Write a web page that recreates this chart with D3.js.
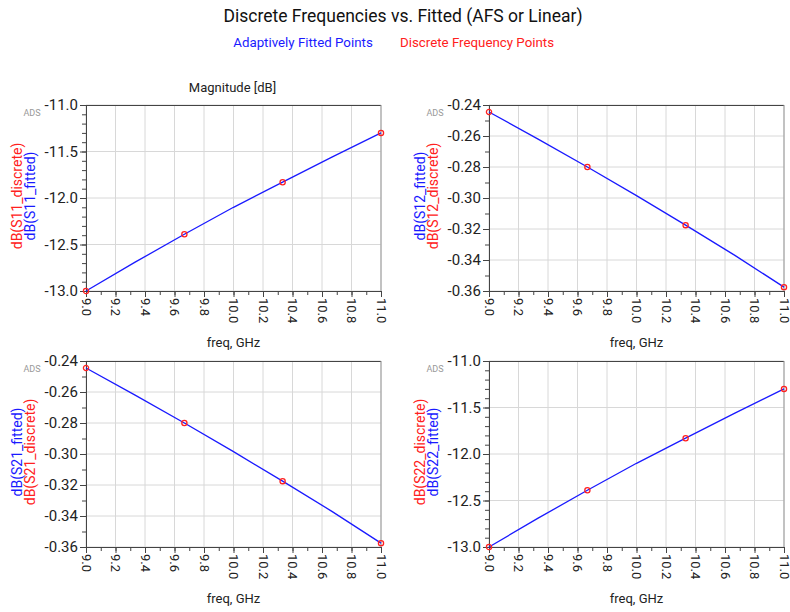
<!DOCTYPE html>
<html>
<head>
<meta charset="utf-8">
<script src="https://cdn.jsdelivr.net/npm/d3@7"></script>
<style>
  body { margin: 0; background: #fff; }
  text { font-family: Roboto, "Noto Sans", sans-serif; }
</style>
</head>
<body>
<div id="chart"></div>
<script>
// frequencies (GHz)
var fitFreq = [9.0, 9.333, 9.667, 10.0, 10.333, 10.667, 11.0];
var discFreq = [9.0, 9.667, 10.333, 11.0];

// magnitudes in dB
var s11Fitted = [-13.0, -12.69, -12.39, -12.10, -11.83, -11.56, -11.30];
var s11Discrete = [-13.0, -12.39, -11.83, -11.30];
var s12Fitted = [-0.2445, -0.262, -0.280, -0.2985, -0.3175, -0.337, -0.3575];
var s12Discrete = [-0.2445, -0.280, -0.3175, -0.3575];
var s21Fitted = [-0.2445, -0.262, -0.280, -0.2985, -0.3175, -0.337, -0.3575];
var s21Discrete = [-0.2445, -0.280, -0.3175, -0.3575];
var s22Fitted = [-13.0, -12.69, -12.39, -12.10, -11.83, -11.56, -11.30];
var s22Discrete = [-13.0, -12.39, -11.83, -11.30];

var xTicks = [9.0, 9.2, 9.4, 9.6, 9.8, 10.0, 10.2, 10.4, 10.6, 10.8, 11.0];
var dbTicks = [-13.0, -12.5, -12.0, -11.5, -11.0];
var smallTicks = [-0.36, -0.34, -0.32, -0.30, -0.28, -0.26, -0.24];

var blue = "#1a1aff", red = "#ff2020";

var svg = d3.select("#chart").append("svg")
  .attr("width", 790).attr("height", 612);

svg.append("text").attr("x", 403).attr("y", 22)
  .attr("text-anchor", "middle").style("font-size", "17.5px").attr("fill", "#111")
  .text("Discrete Frequencies vs. Fitted (AFS or Linear)");
svg.append("text").attr("x", 303).attr("y", 47)
  .attr("text-anchor", "middle").style("font-size", "13.3px").attr("fill", blue)
  .text("Adaptively Fitted Points");
svg.append("text").attr("x", 477).attr("y", 47)
  .attr("text-anchor", "middle").style("font-size", "13.3px").attr("fill", red)
  .text("Discrete Frequency Points");

var plots = [
  {x: 86, y: 105, fit: s11Fitted, disc: s11Discrete, dom: [-13, -11], ticks: dbTicks, minor: 0.1, fmt: ".1f",
   labels: [["dB(S11_discrete)", red], ["dB(S11_fitted)", blue]], title: "Magnitude [dB]"},
  {x: 489, y: 105, fit: s12Fitted, disc: s12Discrete, dom: [-0.36, -0.24], ticks: smallTicks, minor: 0.01, fmt: ".2f",
   labels: [["dB(S12_fitted)", blue], ["dB(S12_discrete)", red]]},
  {x: 86, y: 361, fit: s21Fitted, disc: s21Discrete, dom: [-0.36, -0.24], ticks: smallTicks, minor: 0.01, fmt: ".2f",
   labels: [["dB(S21_fitted)", blue], ["dB(S21_discrete)", red]]},
  {x: 489, y: 361, fit: s22Fitted, disc: s22Discrete, dom: [-13, -11], ticks: dbTicks, minor: 0.1, fmt: ".1f",
   labels: [["dB(S22_discrete)", red], ["dB(S22_fitted)", blue]]}
];

var pw = 295, ph = 186;

plots.forEach(function(p) {
  var g = svg.append("g").attr("transform", "translate(" + p.x + "," + p.y + ")");
  var x = d3.scaleLinear().domain([9, 11]).range([0, pw]);
  var y = d3.scaleLinear().domain(p.dom).range([ph, 0]);

  // grid
  g.append("g").selectAll("line").data(xTicks).enter().append("line")
    .attr("x1", d => x(d)).attr("x2", d => x(d)).attr("y1", 0).attr("y2", ph)
    .attr("stroke", "#d8d8d8");
  g.append("g").selectAll("line").data(p.ticks).enter().append("line")
    .attr("x1", 0).attr("x2", pw).attr("y1", d => y(d)).attr("y2", d => y(d))
    .attr("stroke", "#d8d8d8");

  // frame top / right
  g.append("line").attr("x1", 0).attr("x2", pw).attr("y1", 0.5).attr("y2", 0.5).attr("stroke", "#444");
  g.append("line").attr("x1", pw).attr("x2", pw).attr("y1", 0).attr("y2", ph).attr("stroke", "#999");

  // minor ticks
  var nMinor = Math.round((p.dom[1] - p.dom[0]) / p.minor);
  var yMinor = d3.range(nMinor + 1).map(i => p.dom[0] + i * p.minor);
  g.append("g").call(d3.axisLeft(y).tickValues(yMinor).tickSize(4).tickFormat(""))
    .call(a => a.select(".domain").remove())
    .selectAll("line").attr("stroke", "#444");
  var xMinor = d3.range(21).map(i => 9 + i * 0.1);
  g.append("g").attr("transform", "translate(0," + ph + ")")
    .call(d3.axisBottom(x).tickValues(xMinor).tickSize(4).tickFormat(""))
    .call(a => a.select(".domain").remove())
    .selectAll("line").attr("stroke", "#444");

  // major axes
  var ya = g.append("g").call(d3.axisLeft(y).tickValues(p.ticks).tickSize(6).tickPadding(2).tickFormat(d3.format(p.fmt)));
  ya.select(".domain").attr("stroke", "#444");
  ya.selectAll("line").attr("stroke", "#444");
  ya.selectAll("text").style("font-size", "15px").attr("fill", "#222")
    .text(function(d) { return d3.format(p.fmt)(d).replace("\u2212", "-"); });

  var xa = g.append("g").attr("transform", "translate(0," + ph + ")")
    .call(d3.axisBottom(x).tickValues(xTicks).tickSize(6).tickFormat(d3.format(".1f")));
  xa.select(".domain").attr("stroke", "#444");
  xa.selectAll("line").attr("stroke", "#444");
  xa.selectAll("text").style("font-size", "13px").attr("fill", "#222")
    .attr("transform", "rotate(90)").attr("y", 0).attr("x", 7).attr("dy", "0.35em")
    .attr("text-anchor", "start");

  g.append("text").attr("x", pw / 2).attr("y", ph + 56).attr("text-anchor", "middle")
    .style("font-size", "13px").attr("fill", "#222").text("freq, GHz");

  g.append("text").attr("x", -54).attr("y", 11).attr("text-anchor", "middle")
    .style("font-size", "9px").attr("fill", "#999").text("ADS");

  if (p.title) {
    g.append("text").attr("x", pw / 2 - 1).attr("y", -13).attr("text-anchor", "middle")
      .style("font-size", "13px").attr("fill", "#222").text(p.title);
  }

  p.labels.forEach(function(l, i) {
    g.append("text").attr("transform", "translate(" + (-64 + i * 13) + "," + (ph / 2 - 2) + ") rotate(-90)")
      .attr("text-anchor", "middle").style("font-size", "14px").attr("fill", l[1]).text(l[0]);
  });

  var line = d3.line().x((d, i) => x(fitFreq[i])).y(d => y(d));
  g.append("path").datum(p.fit).attr("d", line).attr("fill", "none")
    .attr("stroke", blue).attr("stroke-width", 1.3);

  g.append("g").selectAll("circle").data(p.disc).enter().append("circle")
    .attr("cx", (d, i) => x(discFreq[i])).attr("cy", d => y(d)).attr("r", 2.6)
    .attr("fill", "none").attr("stroke", red).attr("stroke-width", 1.3);
});
</script>
</body>
</html>
